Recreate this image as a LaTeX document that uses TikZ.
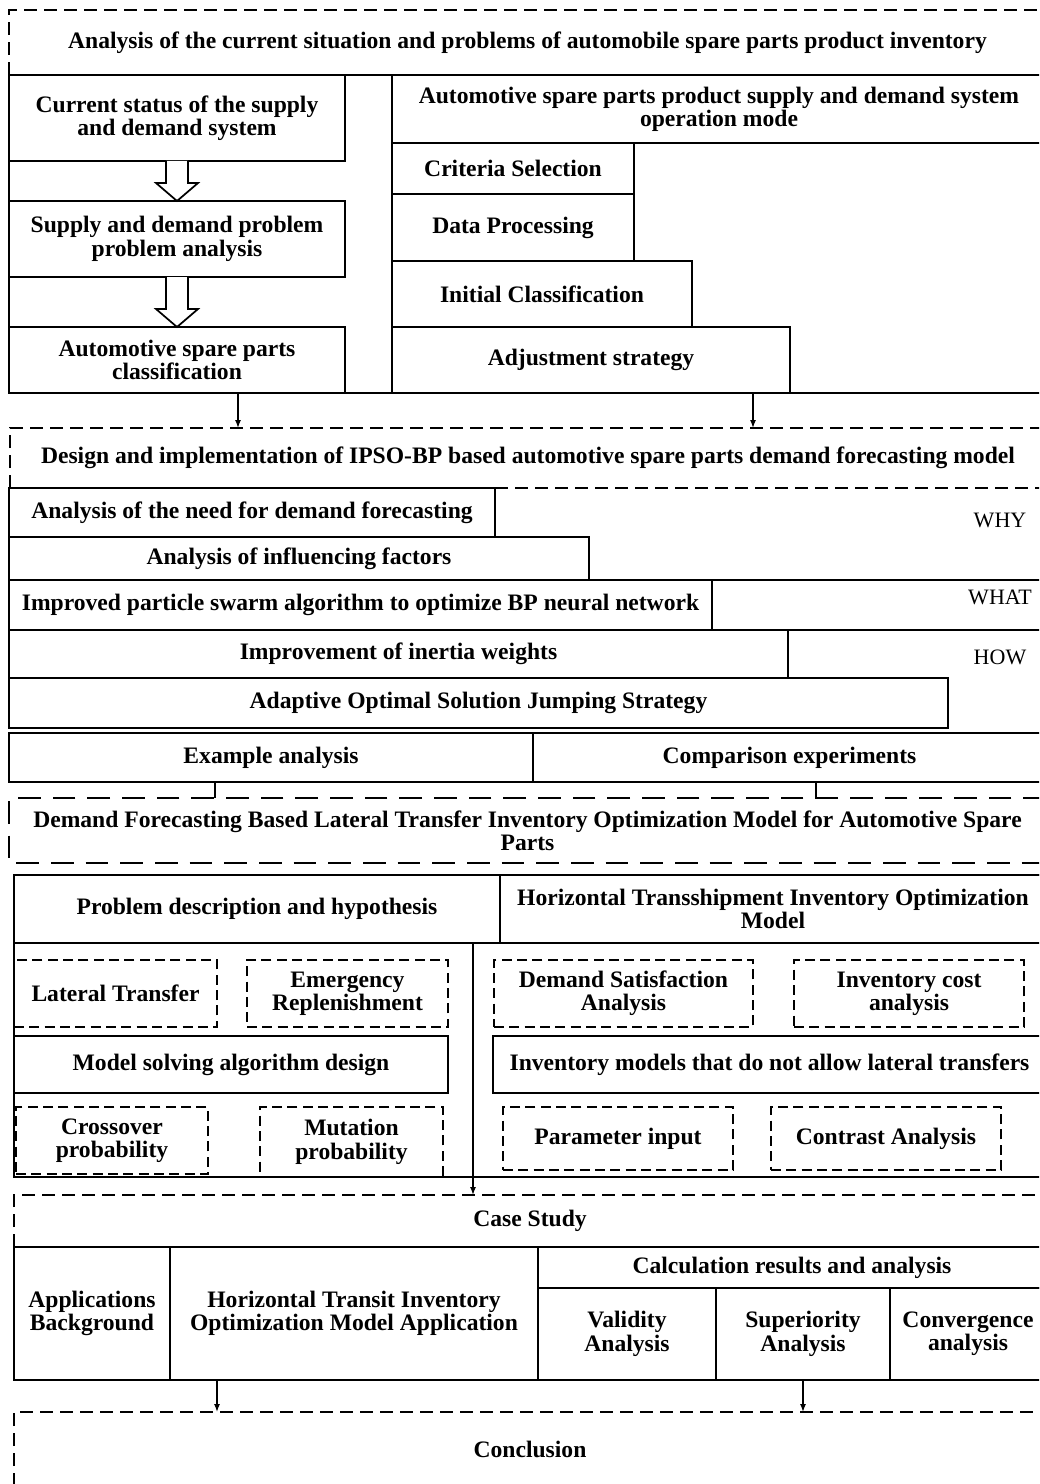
\documentclass[tikz,border=0pt]{standalone}
\usepackage{fontspec}
\setmainfont{Liberation Serif}
\usetikzlibrary{arrows.meta,calc}
\newcommand{\bx}[7][cell]{\node[#1, minimum width={(#5-#3)*0.75pt}, minimum height={(#6-#4)*0.75pt}] (#2) at ({(#3+#5)/2},{(#4+#6)/2}) {#7};}
\begin{document}
\begin{tikzpicture}[x=0.75pt,y=-0.75pt,
  every node/.style={inner sep=0pt, outer sep=0pt},
  txtfont/.style={font=\bfseries\fontsize{17.7}{17.5}\selectfont},
  cell/.style={draw, line width=1.3pt, align=center, txtfont},
  dcell/.style={cell, dash pattern=on 7.5pt off 4pt},
  ttl/.style={align=center, txtfont},
  side/.style={font=\fontsize{16.5}{17.5}\selectfont},
  frame/.style={line width=1.3pt, dash pattern=on 10pt off 5pt},
  lframe/.style={line width=1.3pt, dash pattern=on 17pt off 9pt},
  sline/.style={line width=1.3pt},
  arr/.style={line width=1pt, -{Latex[length=6pt,width=4.5pt]}},
  hollow/.style={line width=1.3pt, fill=white, line join=miter}
]
\useasboundingbox (0,0) rectangle (1039,1484);
\clip (0,0) rectangle (1039,1484);

% ---------- Section 1
\bx[ttl]{s1}{9}{10}{1046}{75}{Analysis of the current situation and problems of automobile spare parts product inventory}
\draw[frame] (s1.south west) -- (s1.north west) -- (s1.north east);

\bx{b1}{9}{75}{345}{161}{Current status of the supply\\and demand system}
\bx{b2}{9}{201}{345}{277}{Supply and demand problem\\problem analysis}
\bx{b3}{9}{327}{345}{393}{Automotive spare parts\\classification}
\bx{rt}{392}{75}{1046}{143}{Automotive spare parts product supply and demand system\\operation mode}
\bx{crs}{392}{143}{634}{194}{Criteria Selection}
\bx{dp}{392}{194}{634}{261}{Data Processing}
\bx{ic}{392}{261}{692}{327}{Initial Classification}
\bx{as}{392}{327}{790}{393}{Adjustment strategy}

\draw[sline] (b1.north east) -- (rt.north west);
\draw[sline] (b1.south west) -- (b2.north west);
\draw[sline] (b2.south west) -- (b3.north west);
\draw[sline] (b3.south east) -- (as.south west);
\draw[sline] (as.south east) -- (as.south -| rt.east);

\draw[hollow] ($(b1.south)+(-11,0)$) -- ($(b2.north)+(-11,-18)$) -- ($(b2.north)+(-21,-18)$) -- (b2.north)
  -- ($(b2.north)+(21,-18)$) -- ($(b2.north)+(11,-18)$) -- ($(b1.south)+(11,0)$);
\draw[hollow] ($(b2.south)+(-11,0)$) -- ($(b3.north)+(-11,-18)$) -- ($(b3.north)+(-21,-18)$) -- (b3.north)
  -- ($(b3.north)+(21,-18)$) -- ($(b3.north)+(11,-18)$) -- ($(b2.south)+(11,0)$);

% ---------- Section 2
\bx[ttl]{s2}{10}{428}{1046}{488}{Design and implementation of IPSO-BP based automotive spare parts demand forecasting model}
\coordinate (c1) at (238,0);
\coordinate (c2) at (753,0);
\draw[arr] (b3.south -| c1) -- (s2.north -| c1);
\draw[arr] (as.south -| c2) -- (s2.north -| c2);

\bx{r1}{9}{488}{495}{537}{Analysis of the need for demand forecasting}
\bx{r2}{9}{537}{589}{580}{Analysis of influencing factors}
\bx{r3}{9}{580}{712}{630}{Improved particle swarm algorithm to optimize BP neural network}
\bx{r4}{9}{630}{788}{678}{Improvement of inertia weights}
\bx{r5}{9}{678}{948}{728}{Adaptive Optimal Solution Jumping Strategy}
\draw[frame] (s2.south west) -- (s2.north west) -- (s2.north east);
\draw[frame] (r1.north east) -- (s2.south east);
\draw[sline] (r2.south east) -- (r2.south -| s2.east);
\draw[sline] (r3.south east) -- (r3.south -| s2.east);

\node[side] (why) at (1000,520) {WHY};
\node[side] (what) at (1000,597) {WHAT};
\node[side] (how) at (1000,657) {HOW};

\bx{ex}{9}{733}{533}{782}{Example analysis}
\bx{ce}{533}{733}{1046}{782}{Comparison experiments}

% ---------- Section 3
\bx[ttl]{s3}{9}{798}{1046}{863}{Demand Forecasting Based Lateral Transfer Inventory Optimization Model for Automotive Spare\\Parts}
\draw[lframe] (s3.north east) -- (s3.north west) -- (s3.south west) -- (s3.south east);
\coordinate (c4) at (215,0);
\coordinate (c5) at (816,0);
\draw[line width=1pt] (ex.south -| c4) -- (s3.north -| c4);
\draw[line width=1pt] (ce.south -| c5) -- (s3.north -| c5);

\bx{big}{14}{875}{1046}{1177}{}
\bx{pd}{14}{875}{500}{943}{Problem description and hypothesis}
\bx{hts}{500}{875}{1046}{943}{Horizontal Transshipment Inventory Optimization\\Model}
\bx[dcell]{lt}{14}{960}{217}{1027}{Lateral Transfer}
\bx[dcell]{er}{247}{960}{448}{1027}{Emergency\\Replenishment}
\bx[dcell]{dsa}{494}{960}{753}{1027}{Demand Satisfaction\\Analysis}
\bx[dcell]{ica}{794}{960}{1024}{1027}{Inventory cost\\analysis}
\bx{msa}{14}{1036}{448}{1093}{Model solving algorithm design}
\bx{imn}{493}{1036}{1046}{1093}{Inventory models that do not allow lateral transfers}
\bx[dcell]{cp}{16}{1107}{208}{1174}{Crossover\\probability}
\bx[dcell]{mp}{260}{1107}{443}{1177}{Mutation\\probability}
\bx[dcell]{pin}{503}{1107}{733}{1170}{Parameter input}
\bx[dcell]{ca}{771}{1107}{1001}{1170}{Contrast Analysis}

% ---------- Section 4
\bx[ttl]{cst}{14}{1195}{1046}{1247}{Case Study}
\draw[frame] (cst.south west) -- (cst.north west) -- (cst.north east);
\coordinate (c3) at (473,0);
\draw[arr] (pd.south -| c3) -- (cst.north -| c3);

\bx{ab}{14}{1247}{170}{1380}{Applications\\Background}
\bx{ht}{170}{1247}{538}{1380}{Horizontal Transit Inventory\\Optimization Model Application}
\bx{cr}{538}{1247}{1046}{1288}{Calculation results and analysis}
\bx{va}{538}{1288}{716}{1380}{Validity\\Analysis}
\bx{sa}{716}{1288}{890}{1380}{Superiority\\Analysis}
\bx{co}{890}{1288}{1046}{1380}{Convergence\\analysis}

% ---------- Section 5
\bx[ttl]{con}{14}{1412}{1046}{1486}{Conclusion}
\draw[frame] (con.south west) -- (con.north west) -- (con.north east);
\coordinate (c6) at (217,0);
\coordinate (c7) at (803,0);
\draw[arr] (ht.south -| c6) -- (con.north -| c6);
\draw[arr] (sa.south -| c7) -- (con.north -| c7);
\end{tikzpicture}
\end{document}
